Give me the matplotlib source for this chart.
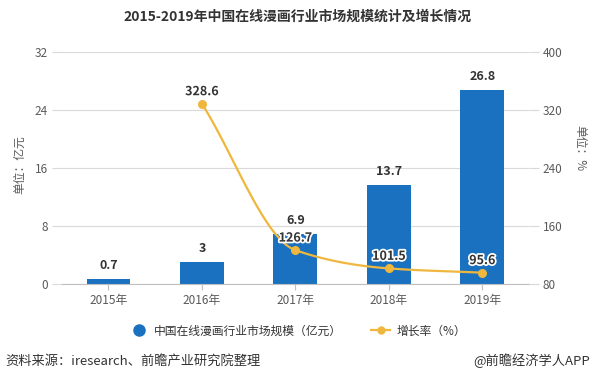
import numpy as np
import matplotlib
matplotlib.use("Agg")
import matplotlib.pyplot as plt
import matplotlib.patheffects as pe
from matplotlib.lines import Line2D

plt.rcParams['font.family'] = ['Noto Sans CJK SC', 'DejaVu Sans']

years = ['2015年', '2016年', '2017年', '2018年', '2019年']
market_size = [0.7, 3, 6.9, 13.7, 26.8]
growth_years_idx = [1, 2, 3, 4]
growth_rate = [328.6, 126.7, 101.5, 95.6]
left_ticks = [0, 8, 16, 24, 32]
right_ticks = [80, 160, 240, 320, 400]

BAR = '#1a71bf'
LINE = '#efb73e'
GRID = '#d9d9d9'
TXT = '#595959'

fig = plt.figure(figsize=(5.95, 3.83), dpi=100)
ax = fig.add_axes([61.75/595, 1 - 284/383, (529 - 61.75)/595, (284 - 52)/383])
ax2 = ax.twinx()

x = np.arange(len(years))
ax.bar(x, market_size, width=0.47, color=BAR, zorder=2)
ax.set_xlim(-0.5, 4.5)
ax.set_ylim(0, 32)
ax.set_yticks(left_ticks)
ax.set_xticks(x)
ax.set_xticklabels(years)
ax.grid(axis='y', color=GRID, linewidth=0.8, zorder=0)
ax.set_axisbelow(True)
for s in ['top', 'left', 'right']:
    ax.spines[s].set_visible(False)
ax.spines['bottom'].set_color('#bfbfbf')
ax.tick_params(axis='y', length=7, color=GRID, labelsize=8.5, labelcolor=TXT, pad=3)
ax.tick_params(axis='x', length=4, color='#bfbfbf', labelsize=8.5, labelcolor=TXT)
for xi, v in zip(x, market_size):
    ax.annotate(f'{v:g}', (xi, v), xytext=(0, 5), textcoords='offset points',
                ha='center', va='bottom', fontsize=9, fontweight='bold', color='#333333')

# smooth curve (cardinal-style Hermite) through growth points, for drawing only
gx = np.array(growth_years_idx, dtype=float)
gy = np.array(growth_rate, dtype=float)
d = np.diff(gy) / np.diff(gx)
m = np.zeros_like(gy)
m[0], m[-1] = d[0], d[-1]
for i in range(1, len(gy) - 1):
    if d[i - 1] * d[i] <= 0:
        m[i] = 0
    else:
        m[i] = 2 / (1 / d[i - 1] + 1 / d[i])
xs, ys = [], []
for i in range(len(gx) - 1):
    t = np.linspace(0, 1, 40)
    h = gx[i + 1] - gx[i]
    h00 = 2 * t**3 - 3 * t**2 + 1
    h10 = t**3 - 2 * t**2 + t
    h01 = -2 * t**3 + 3 * t**2
    h11 = t**3 - t**2
    xs.append(gx[i] + t * h)
    ys.append(h00 * gy[i] + h10 * h * m[i] + h01 * gy[i + 1] + h11 * h * m[i + 1])
ax2.plot(np.concatenate(xs), np.concatenate(ys), color=LINE, linewidth=1.6, zorder=3)
ax2.plot(gx, gy, 'o', color=LINE, markersize=5.5, zorder=4)
ax2.set_ylim(80, 400)
ax2.set_yticks(right_ticks)
for s in ['top', 'left', 'right', 'bottom']:
    ax2.spines[s].set_visible(False)
ax2.tick_params(axis='y', length=7, color=GRID, labelsize=8.5, labelcolor=TXT, pad=3)
for xi, v in zip(gx, gy):
    ax2.annotate(f'{v:g}', (xi, v), xytext=(0, 4), textcoords='offset points',
                 ha='center', va='bottom', fontsize=9, fontweight='bold', color='#333333',
                 path_effects=[pe.withStroke(linewidth=2.5, foreground='white')])

fig.text(20/595, 1 - 165/383, '单位：亿元', rotation=90, ha='center', va='center',
         fontsize=8.5, color=TXT)
fig.text(580/595, 1 - 148/383, '单位：%', rotation=-90, ha='center', va='center',
         fontsize=8.5, color=TXT)

fig.text(0.5, 1 - 17/383, '2015-2019年中国在线漫画行业市场规模统计及增长情况',
         ha='center', va='center', fontsize=10, fontweight='bold', color='#333333')

handles = [Line2D([], [], marker='o', linestyle='none', color=BAR, markersize=8),
           Line2D([], [], marker='o', linestyle='-', color=LINE, markersize=5, linewidth=1.6)]
fig.legend(handles, ['中国在线漫画行业市场规模（亿元）', '增长率（%）'],
           loc='center', bbox_to_anchor=(0.5, 1 - 331/383), ncol=2, frameon=False,
           fontsize=8.5, handlelength=1.6, columnspacing=2.5, handletextpad=0.5,
           labelcolor='#333333')

fig.text(5/595, 1 - 361/383, '资料来源：iresearch、前瞻产业研究院整理', ha='left', va='center',
         fontsize=9.5, color='#333333')
fig.text(590/595, 1 - 361/383, '@前瞻经济学人APP', ha='right', va='center',
         fontsize=9.5, color='#333333')

fig.savefig('out.png', dpi=100)
